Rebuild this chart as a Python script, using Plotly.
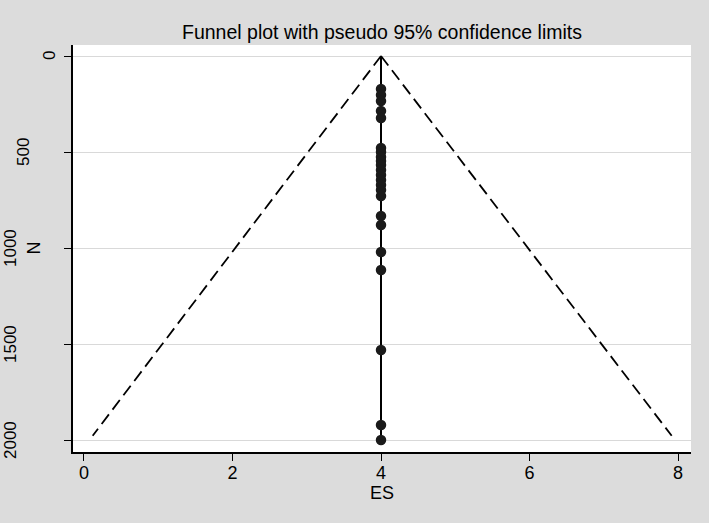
import plotly.graph_objects as go

# Study data (effect size ES and sample size N)
es_points = [4, 4, 4, 4, 4, 4, 4, 4, 4, 4, 4, 4, 4, 4, 4, 4, 4, 4, 4, 4, 4, 4, 4]
n_points = [172, 203, 234, 286, 323, 479, 500, 526, 547, 568, 594, 620, 646,
            672, 698, 729, 833, 880, 1021, 1115, 1531, 1922, 2000]

# Pooled estimate line and pseudo 95% confidence limits
pooled_es = [4, 4]
pooled_n = [0, 2000]
lower_es = [4, 0.117]
upper_es = [4, 7.915]
limit_n = [0, 1978]

x_ticks = [0, 2, 4, 6, 8]
y_ticks = [0, 500, 1000, 1500, 2000]
y_tick_labels = ["0", "500", "1000", "1500", "2000"]

FONT = "Liberation Sans, Arial, Helvetica, sans-serif"
NARROW = "Liberation Sans Narrow, Arial Narrow, Liberation Sans, sans-serif"
BG = "#dcdcdc"

W, H = 709, 523
ML, MR, MT, MB = 73, 18, 45, 71
PW = W - ML - MR


def px_to_paper_x(px):
    return (px - ML) / PW


fig = go.Figure()
fig.add_trace(go.Scatter(x=lower_es, y=limit_n, mode="lines",
                         line=dict(color="black", width=1.8, dash="12px,6px"),
                         showlegend=False, hoverinfo="skip"))
fig.add_trace(go.Scatter(x=upper_es, y=limit_n, mode="lines",
                         line=dict(color="black", width=1.8, dash="12px,6px"),
                         showlegend=False, hoverinfo="skip"))
fig.add_trace(go.Scatter(x=pooled_es, y=pooled_n, mode="lines",
                         line=dict(color="black", width=2),
                         showlegend=False))
fig.add_trace(go.Scatter(x=es_points, y=n_points, mode="markers",
                         marker=dict(color="#1a1a1a", size=10.5),
                         showlegend=False))

# Vertical y tick labels, placed Stata-style (longer labels sit further left)
annotations = []
for val, txt in zip(y_ticks, y_tick_labels):
    annotations.append(dict(
        text=txt, textangle=-90, showarrow=False,
        xref="paper", yref="y", x=px_to_paper_x(49 - 13 * (len(txt) - 1)), y=val,
        xanchor="center", yanchor="middle",
        font=dict(size=17, family=NARROW, color="black")))
annotations.append(dict(
    text="N", textangle=-90, showarrow=False,
    xref="paper", yref="paper", x=px_to_paper_x(33), y=0.5,
    xanchor="center", yanchor="middle",
    font=dict(size=18, family=NARROW, color="black")))

fig.update_layout(
    width=W, height=H,
    paper_bgcolor=BG, plot_bgcolor="white",
    margin=dict(l=ML, r=MR, t=MT, b=MB, autoexpand=False),
    font=dict(family=NARROW, color="black", size=18),
    title=dict(text="Funnel plot with pseudo 95% confidence limits",
               x=382 / W, xanchor="center",
               y=1 - 32 / H, yanchor="middle",
               font=dict(size=19.5, color="black", family=FONT)),
    annotations=annotations,
)
fig.update_xaxes(range=[-0.148, 8.175], tickvals=x_ticks,
                 ticktext=[str(v) for v in x_ticks],
                 showgrid=False, zeroline=False, automargin=False,
                 showline=True, linecolor="black", linewidth=1.5,
                 ticks="outside", ticklen=7, tickcolor="black",
                 ticklabelstandoff=-3,
                 tickfont=dict(size=18, family=NARROW),
                 title=dict(text="ES", font=dict(size=18, family=NARROW), standoff=0))
fig.update_yaxes(range=[2062.5, -57.3], tickvals=y_ticks,
                 showticklabels=False,
                 showgrid=True, gridcolor="#d9d9d9", gridwidth=1,
                 zeroline=False, automargin=False,
                 showline=True, linecolor="black", linewidth=1.5,
                 ticks="outside", ticklen=7, tickcolor="black")

fig.write_html(
    "out.html",
    config={"displayModeBar": False},
    post_script=("document.body.style.margin='0';"
                 "document.body.style.background='" + BG + "';"),
)
